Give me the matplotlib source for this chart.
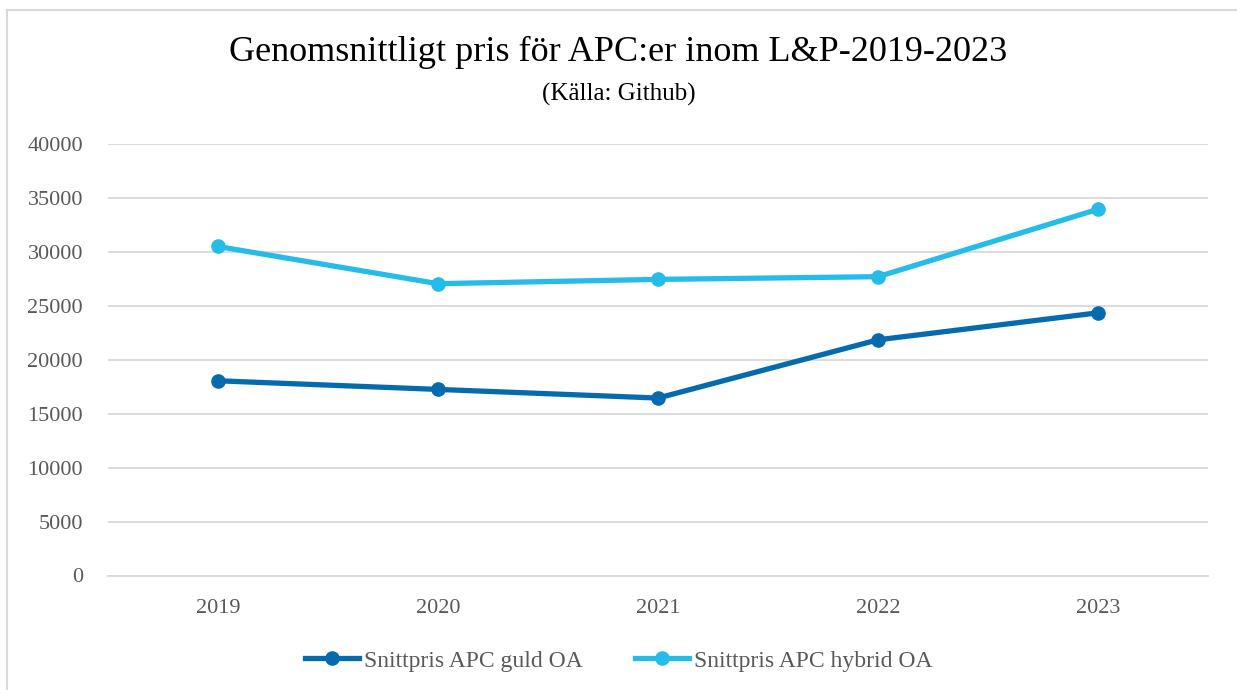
import matplotlib.pyplot as plt
from matplotlib.lines import Line2D

years = ['2019', '2020', '2021', '2022', '2023']
guld_oa = [18050, 17250, 16450, 21850, 24350]
hybrid_oa = [30500, 27050, 27450, 27700, 33950]

c_guld = '#066BAE'
c_hybrid = '#25BCEA'
grey_text = '#595959'

plt.rcParams['font.family'] = ['Liberation Serif', 'DejaVu Serif']

fig = plt.figure(figsize=(12.37, 6.9), dpi=100)
ax = fig.add_axes([108 / 1237, 1 - 575.5 / 690, 1100 / 1237, (575.5 - 144) / 690])

x = range(len(years))
ax.plot(x, guld_oa, color=c_guld, lw=3.8, marker='o', ms=9.5, label='Snittpris APC guld OA', zorder=3)
ax.plot(x, hybrid_oa, color=c_hybrid, lw=3.8, marker='o', ms=9.5, label='Snittpris APC hybrid OA', zorder=3)

ax.set_xlim(-0.5, 4.5)
ax.set_ylim(0, 40000)
ax.set_yticks(range(0, 40001, 5000))
ax.set_xticks(list(x))
ax.set_xticklabels(years)
ax.grid(axis='y', color='#D9D9D9', lw=1.3)
ax.set_axisbelow(True)
for s in ['top', 'right', 'left']:
    ax.spines[s].set_visible(False)
ax.spines['bottom'].set_color('#D9D9D9')
ax.spines['bottom'].set_linewidth(1.3)
ax.tick_params(length=0, labelsize=16, colors=grey_text)
ax.tick_params(axis='y', pad=18)
ax.tick_params(axis='x', pad=17)

fig.text(0.5, 1 - 52 / 690, 'Genomsnittligt pris för APC:er inom L&P-2019-2023',
         ha='center', va='center', fontsize=26, color='black')
fig.text(0.5, 1 - 94 / 690, '(Källa: Github)', ha='center', va='center', fontsize=18, color='black')

leg = fig.legend(loc='center', bbox_to_anchor=(0.5, 1 - 661 / 690), ncol=2, frameon=False,
                 fontsize=17, handlelength=2.3, columnspacing=2.2, handletextpad=0.2)
for t in leg.get_texts():
    t.set_color(grey_text)

# chart frame (only left and top edges visible in the crop)
bx, by = 6.5 / 1237, 1 - 10 / 690
fig.lines.append(Line2D([bx, bx], [0, by], transform=fig.transFigure, color='#D9D9D9', lw=1.5))
fig.lines.append(Line2D([bx, 1], [by, by], transform=fig.transFigure, color='#D9D9D9', lw=1.5))

fig.savefig('out.png', dpi=100)
